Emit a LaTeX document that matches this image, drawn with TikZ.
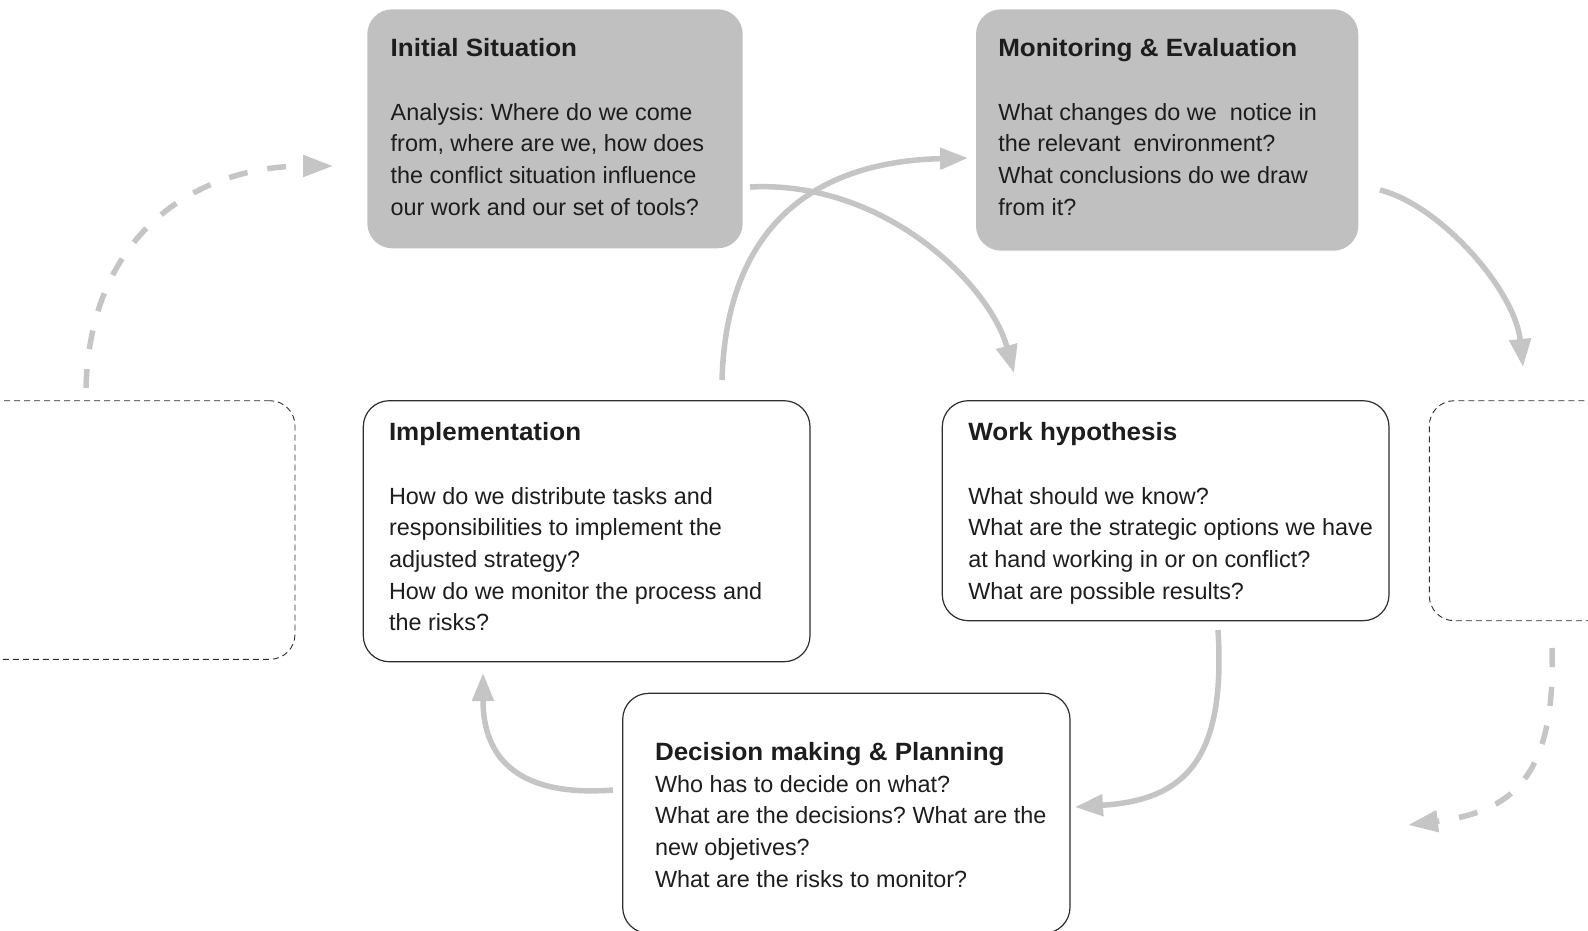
\documentclass[tikz,border=0pt]{standalone}
\usepackage{fontspec}
\setmainfont{Liberation Sans}
\newfontfamily\ttlfont[FakeStretch=1.04]{Liberation Sans}
\usetikzlibrary{arrows.meta}
\definecolor{boxgray}{RGB}{192,192,192}
\definecolor{arrgray}{RGB}{197,197,197}
\definecolor{ink}{RGB}{30,28,28}
\definecolor{edgec}{RGB}{45,45,45}
\frenchspacing
\begin{document}
\begin{tikzpicture}[x=1pt,y=-1pt,
  graybox/.style={fill=boxgray, rounded corners=25pt, inner sep=0pt, outer sep=0pt, anchor=north west},
  solidbox/.style={draw=edgec, line width=1.2pt, rounded corners=26pt, inner sep=0pt, outer sep=0pt, anchor=north west},
  dashbox/.style={draw=edgec, line width=0.9pt, dash pattern=on 6pt off 4pt, rounded corners=25pt, inner sep=0pt, outer sep=0pt, anchor=north west},
  txt/.style={anchor=base west, inner sep=0pt, outer sep=0pt, text=ink, font=\fontsize{23.4}{28}\selectfont},
  ttl/.style={anchor=base west, inner sep=0pt, outer sep=0pt, text=ink, font=\ttlfont\fontsize{25}{30}\selectfont\bfseries},
  flow/.style={draw=arrgray, line width=5.5pt, -{Triangle[length=28pt,width=21pt]}},
  dflow/.style={draw=arrgray, line width=5.5pt, dash pattern=on 19pt off 20pt, -{Triangle[length=30pt,width=21pt]}}
]
\useasboundingbox (0,0) rectangle (1588,930);

% boxes
\node[graybox, minimum width=375.4pt, minimum height=239pt] (I) at (367.3,9.3) {};
\node[graybox, minimum width=382.3pt, minimum height=241.4pt] (M) at (976,9.3) {};
\node[solidbox, minimum width=446.7pt, minimum height=261pt] (Imp) at (363.3,400.7) {};
\node[solidbox, minimum width=446.7pt, minimum height=220pt] (W) at (942.3,400.7) {};
\node[solidbox, minimum width=447.3pt, minimum height=240pt] (D) at (622.7,693.3) {};
\node[dashbox, minimum width=345pt, minimum height=258.6pt] (LD) at (-50,400.7) {};
\node[dashbox, minimum width=220pt, minimum height=220pt] (RD) at (1429.3,400.7) {};

% Initial Situation
\node[ttl] (I0) at (390.7,56) {Initial Situation};
\node[txt] (I1) at (390.7,120) {Analysis: Where do we come};
\node[txt] (I2) at (390.7,151.7) {from, where are we, how does};
\node[txt] (I3) at (390.7,183.3) {the conflict situation influence};
\node[txt] (I4) at (390.7,215) {our work and our set of tools?};

% Monitoring
\node[ttl] (M0) at (998.3,56) {Monitoring \& Evaluation};
\node[txt] (M1) at (998.3,120) {What changes do we\ \ notice in};
\node[txt] (M2) at (998.3,151.7) {the relevant\ \ environment?};
\node[txt] (M3) at (998.3,183.3) {What conclusions do we draw};
\node[txt] (M4) at (998.3,215) {from it?};

% Implementation
\node[ttl] (P0) at (389,440.7) {Implementation};
\node[txt] (P1) at (389,504) {How do we distribute tasks and};
\node[txt] (P2) at (389,535.7) {responsibilities to implement the};
\node[txt] (P3) at (389,567.7) {adjusted strategy?};
\node[txt] (P4) at (389,599.3) {How do we monitor the process and};
\node[txt] (P5) at (389,630.7) {the risks?};

% Work hypothesis
\node[ttl] (W0) at (968.3,440.7) {Work hypothesis};
\node[txt] (W1) at (968.3,504) {What should we know?};
\node[txt] (W2) at (968.3,535.7) {What are the strategic options we have};
\node[txt] (W3) at (968.3,567.7) {at hand working in or on conflict?};
\node[txt] (W4) at (968.3,599.3) {What are possible results?};

% Decision
\node[ttl] (D0) at (655,760) {Decision making \& Planning};
\node[txt] (D1) at (655,792) {Who has to decide on what?};
\node[txt] (D2) at (655,823.7) {What are the decisions? What are the};
\node[txt] (D3) at (655,855.4) {new objetives?};
\node[txt] (D4) at (655,887) {What are the risks to monitor?};

% connector end points
\coordinate (a1s) at (86,388);
\coordinate (a1e) at (333,166);
\coordinate (a2s) at (1552,648);
\coordinate (a2e) at (1408,825);
\coordinate (a3s) at (750,187);
\coordinate (a3e) at (1014,373);
\coordinate (a4s) at (722,380);
\coordinate (a4e) at (968,158);
\coordinate (a5s) at (1380,190);
\coordinate (a5e) at (1523,367);
\coordinate (a6s) at (1218,630);
\coordinate (a6e) at (1075,807);
\coordinate (a7s) at (613,790);
\coordinate (a7e) at (483,673);

% connectors
\draw[dflow] (a1s) .. controls (90,230) and (200,166) .. (a1e);
\draw[dflow] (a2s) .. controls (1556,780) and (1510,812) .. (a2e);
\draw[flow] (a3s) .. controls (885,180) and (990,285) .. (a3e);
\draw[flow] (a4s) .. controls (726,240) and (800,162) .. (a4e);
\draw[flow] (a5s) .. controls (1440,205) and (1515,290) .. (a5e);
\draw[flow] (a6s) .. controls (1226,760) and (1185,800) .. (a6e);
\draw[flow] (a7s) .. controls (520,797) and (483,760) .. (a7e);
\end{tikzpicture}
\end{document}
